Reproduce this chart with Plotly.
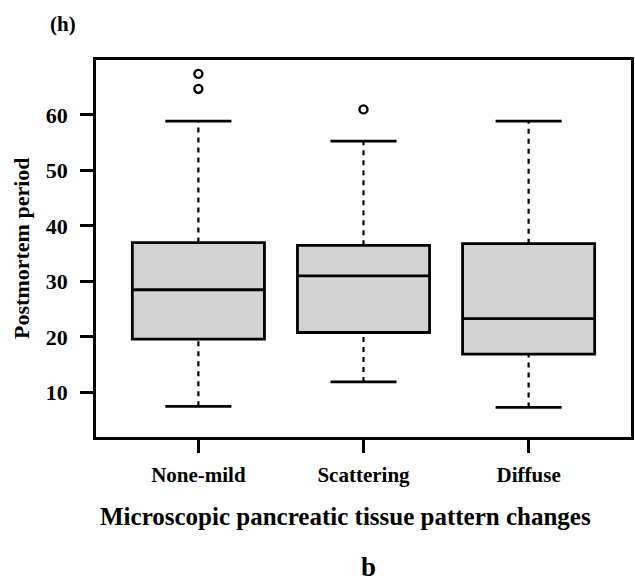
import plotly.graph_objects as go

# ---- data ----
categories = ["None-mild", "Scattering", "Diffuse"]
positions = [1, 2, 3]
q1 = [19.6, 20.8, 16.9]
median = [28.5, 31.0, 23.3]
q3 = [37.0, 36.5, 36.8]
lower_whisker = [7.5, 11.9, 7.3]
upper_whisker = [58.9, 55.3, 58.9]
outlier_x = [1, 1, 2]
outlier_y = [67.4, 64.7, 61.0]
y_ticks = [10, 20, 30, 40, 50, 60]

FONT = "Liberation Serif"
BOX_W = 0.8
CAP_HALF = 0.2

fig = go.Figure()

# dashed whiskers
wx, wy = [], []
for p, a, b, c, d in zip(positions, lower_whisker, q1, q3, upper_whisker):
    wx += [p, p, None, p, p, None]
    wy += [a, b, None, c, d, None]
fig.add_trace(go.Scatter(x=wx, y=wy, mode="lines",
                         line=dict(color="black", width=2.2, dash="5px,5px"),
                         hoverinfo="skip", showlegend=False))

# solid staples
cx, cy = [], []
for p, a, d in zip(positions, lower_whisker, upper_whisker):
    cx += [p - CAP_HALF, p + CAP_HALF, None, p - CAP_HALF, p + CAP_HALF, None]
    cy += [a, a, None, d, d, None]
fig.add_trace(go.Scatter(x=cx, y=cy, mode="lines",
                         line=dict(color="black", width=2.7),
                         hoverinfo="skip", showlegend=False))

# boxes
fig.add_trace(go.Box(x=positions, q1=q1, median=median, q3=q3,
                     lowerfence=q1, upperfence=q3,
                     width=BOX_W, whiskerwidth=0,
                     fillcolor="#d3d3d3",
                     line=dict(color="black", width=2.8),
                     boxpoints=False, showlegend=False))

# outliers
fig.add_trace(go.Scatter(x=outlier_x, y=outlier_y, mode="markers",
                         marker=dict(symbol="circle-open", size=8,
                                     color="black", line=dict(width=2.4)),
                         showlegend=False))

W, H = 635, 584
ML, MR, MT, MB = 96, 1, 60, 147

fig.update_layout(
    width=W, height=H,
    margin=dict(l=ML, r=MR, t=MT, b=MB, pad=0),
    paper_bgcolor="white", plot_bgcolor="white",
    showlegend=False,
    font=dict(family=FONT, color="black"),
    xaxis=dict(range=[0.38, 3.62], tickvals=positions, ticktext=categories,
               showline=True, linecolor="black", linewidth=2.7, mirror=True,
               ticks="outside", ticklen=13, tickwidth=2.7, tickcolor="black",
               showgrid=False, zeroline=False,
               tickfont=dict(family=FONT, size=21, weight="bold", color="black"),
               ticklabelstandoff=4),
    yaxis=dict(range=[1.97, 69.9], tickvals=y_ticks,
               showline=True, linecolor="black", linewidth=2.7, mirror=True,
               ticks="outside", ticklen=13, tickwidth=2.7, tickcolor="black",
               showgrid=False, zeroline=False,
               tickfont=dict(family=FONT, size=22, weight="bold", color="black"),
               ticklabelstandoff=8),
)

pw = W - ML - MR
ph = H - MT - MB

def px(xp):
    return (xp - ML) / pw

def py(yp):
    return (H - MB - yp) / ph

annots = [
    dict(text="<b>(h)</b>", x=px(63), y=py(24), size=21, angle=0),
    dict(text="<b>Postmortem period</b>", x=px(20.5), y=py(248), size=22, angle=-90),
    dict(text="<b>Microscopic pancreatic tissue pattern changes</b>", x=px(347), y=py(516), size=25, angle=0),
    dict(text="<b>b</b>", x=px(370), y=py(567), size=27, angle=0),
]
for a in annots:
    fig.add_annotation(text=a["text"], x=a["x"], y=a["y"], xref="paper", yref="paper",
                       xanchor="center", yanchor="middle", showarrow=False,
                       textangle=a["angle"],
                       font=dict(family=FONT, size=a["size"], color="black"))

fig.write_html("out.html")
